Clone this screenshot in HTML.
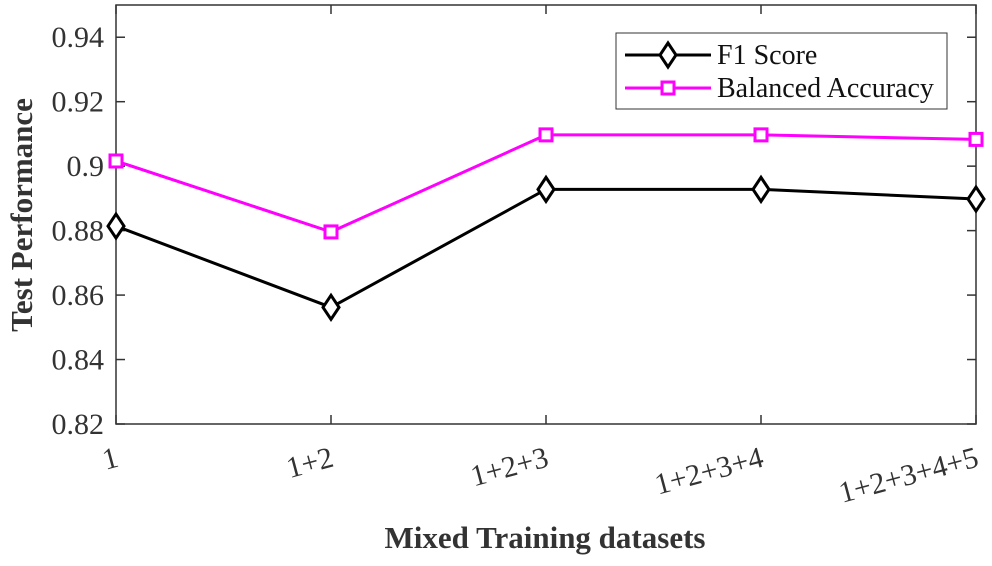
<!DOCTYPE html>
<html><head><meta charset="utf-8"><style>
body{margin:0;background:#fff;}
svg text{font-family:"Liberation Serif","Times New Roman","DejaVu Serif",serif;}
</style></head><body>
<svg id="chart" width="992" height="561" font-family="Liberation Serif, DejaVu Serif, serif">
<rect x="116" y="5" width="860" height="419" fill="none" stroke="#333" stroke-width="1.5"/>
<g id="ticks"></g>
<g id="series"></g>
<text x="32" y="215" transform="rotate(-90 32 215)" text-anchor="middle" font-size="31" font-weight="bold" fill="#333">Test Performance</text>
<text x="545" y="548" text-anchor="middle" font-size="31" font-weight="bold" fill="#333">Mixed Training datasets</text>
<g>
<rect x="616" y="33" width="331" height="76" fill="#fff" stroke="#333" stroke-width="1"/>
<g>
<line x1="625" y1="55" x2="711" y2="55" stroke="#000" stroke-width="3"/>
<path d="M668 43 L676 55 L668 67 L660 55 Z" fill="#fff" stroke="#000" stroke-width="3"/>
<text x="717" y="64" font-size="28" fill="#111">F1 Score</text>
</g>
<g>
<line x1="625" y1="88" x2="711" y2="88" stroke="#f0f" stroke-width="3"/>
<rect x="662" y="82" width="12" height="12" fill="#fff" stroke="#f0f" stroke-width="3"/>
<text x="717" y="97" font-size="28" fill="#111">Balanced Accuracy</text>
</g>
</g>
</svg>
<script>
const categories = ["1","1+2","1+2+3","1+2+3+4","1+2+3+4+5"];
const f1Values = [0.8814, 0.8562, 0.8928, 0.8928, 0.8898];
const baValues = [0.9016, 0.8796, 0.9097, 0.9097, 0.9083];
const yTicks = [0.82, 0.84, 0.86, 0.88, 0.9, 0.92, 0.94];
const yTickLabels = ["0.82","0.84","0.86","0.88","0.9","0.92","0.94"];
const NS="http://www.w3.org/2000/svg";
const L=116,R=976,T=5,B=424,YMIN=0.82,YMAX=0.95;
const xs=i=>L+i*(R-L)/(categories.length-1);
const ys=v=>B-(v-YMIN)/(YMAX-YMIN)*(B-T);
function mk(tag,attrs,parent){const e=document.createElementNS(NS,tag);for(const k in attrs)e.setAttribute(k,attrs[k]);parent.appendChild(e);return e;}
const tg=document.getElementById('ticks');
yTicks.forEach((v,i)=>{
  const y=ys(v);
  const a=mk('line',{x1:L,y1:y,x2:L+9,y2:y,stroke:'#333','stroke-width':1.5},tg);
  
  
  const b=mk('line',{x1:R,y1:y,x2:R-9,y2:y,stroke:'#333','stroke-width':1.5},tg);
  
  
  const t=mk('text',{x:L-12,y:y+10,'text-anchor':'end','font-size':30,fill:'#333'},tg);
  t.textContent=yTickLabels[i];
  
  
});
categories.forEach((c,i)=>{
  const x=xs(i);
  const a=mk('line',{x1:x,y1:B,x2:x,y2:B-9,stroke:'#333','stroke-width':1.5},tg);
  
  
  const b=mk('line',{x1:x,y1:T,x2:x,y2:T+9,stroke:'#333','stroke-width':1.5},tg);
  
  
  const t=mk('text',{x:x+4,y:B+42,'text-anchor':'end','font-size':30,fill:'#333',transform:`rotate(-15 ${x+4} ${B+42})`},tg);
  t.textContent=c;
  
  
});
const sg=document.getElementById('series');
function drawSeries(vals,color,name,marker){
  const pts=vals.map((v,i)=>xs(i)+','+ys(v)).join(' ');
  const pl=mk('polyline',{points:pts,fill:'none',stroke:color,'stroke-width':3},sg);
  
  
  vals.forEach((v,i)=>{
    const x=xs(i),y=ys(v);
    let m;
    if(marker==='diamond') m=mk('path',{d:`M${x} ${y-12} L${x+8} ${y} L${x} ${y+12} L${x-8} ${y} Z`,fill:'#fff',stroke:color,'stroke-width':3},sg);
    else m=mk('rect',{x:x-6,y:y-6,width:12,height:12,fill:'#fff',stroke:color,'stroke-width':3},sg);
    
    
  });
}
drawSeries(baValues,'#f0f','balanced-accuracy','square');
drawSeries(f1Values,'#000','f1-score','diamond');
</script>
</body></html>
